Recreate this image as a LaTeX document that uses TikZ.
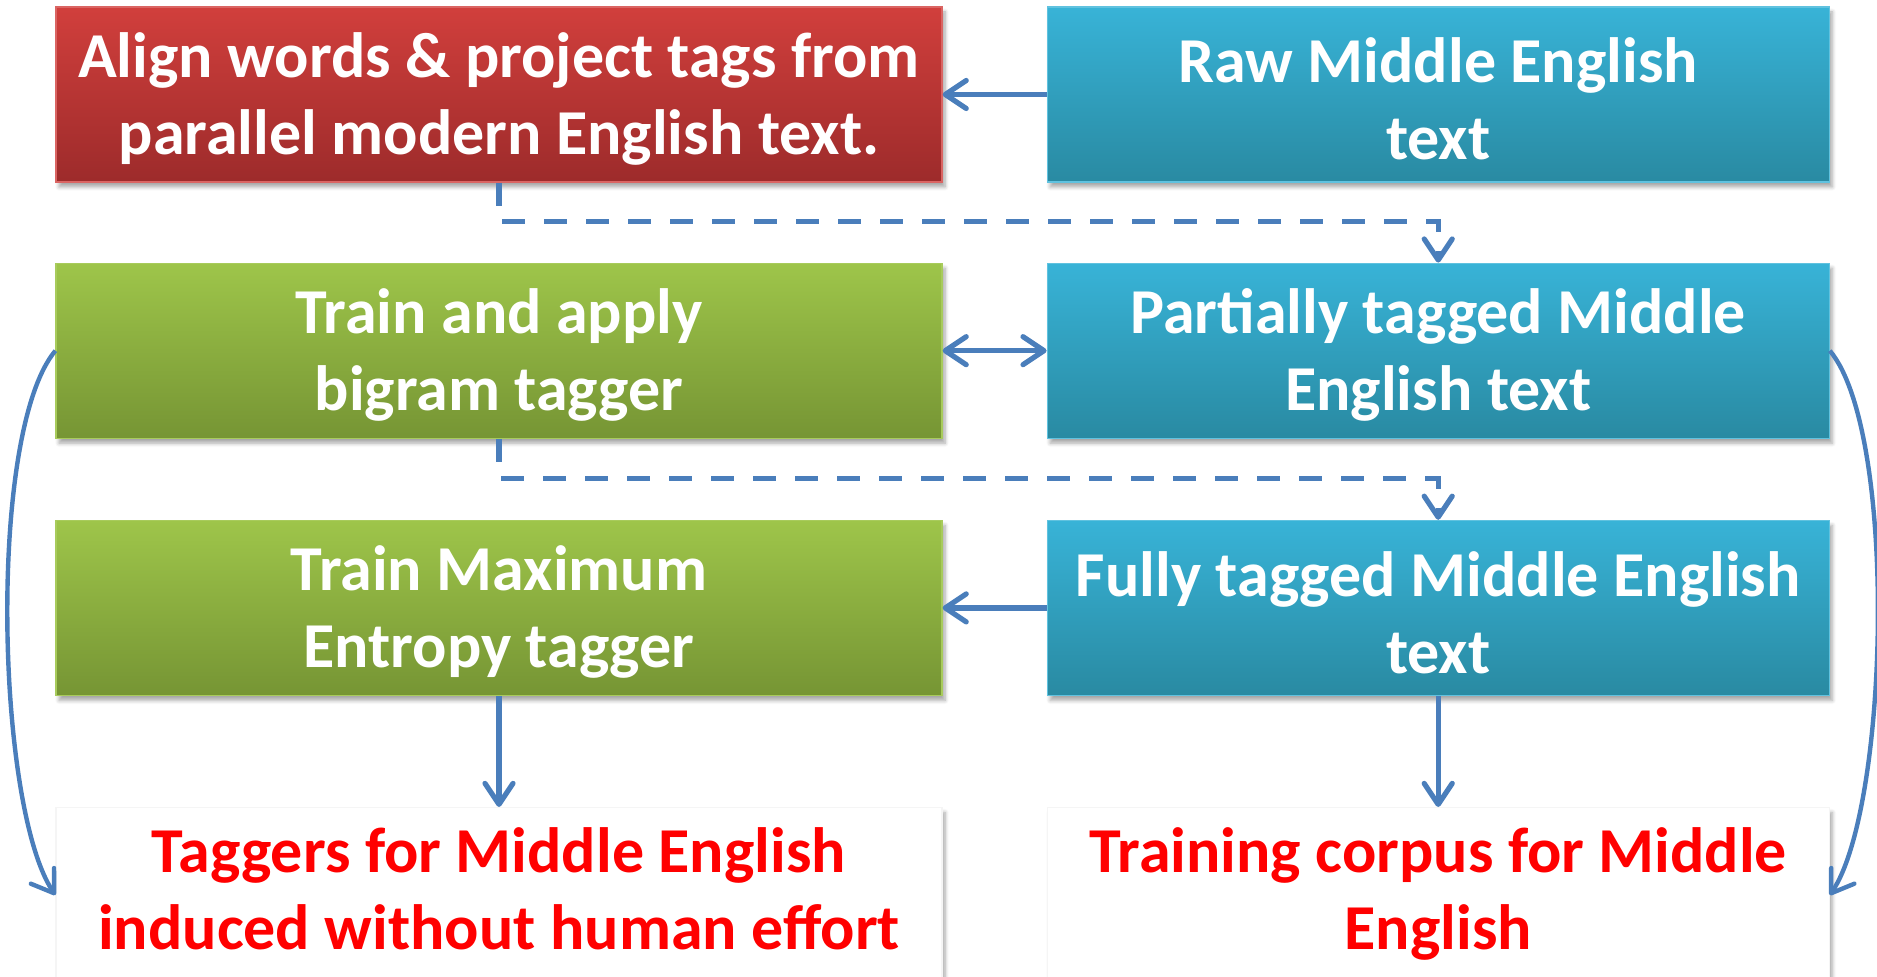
\documentclass[tikz,border=0pt]{standalone}
\usepackage{fontspec}
\setmainfont{Carlito}
\usepackage{tikz}
\usetikzlibrary{arrows.meta}
\usetikzlibrary{positioning}
\usetikzlibrary{shadows.blur}
\definecolor{arrowblue}{RGB}{74,126,187}
\definecolor{redtop}{RGB}{209,63,60}
\definecolor{redbot}{RGB}{157,43,43}
\definecolor{blutop}{RGB}{56,179,215}
\definecolor{blubot}{RGB}{41,138,162}
\definecolor{grntop}{RGB}{158,197,74}
\definecolor{grnbot}{RGB}{118,149,52}
\tikzset{
  box/.style = {rectangle, align=center, inner sep=0pt, text centered,
    font=\fontsize{32}{38.5}\selectfont\bfseries, text=white,
    minimum height=87.5pt, line width=0.6pt,
    blur shadow={shadow xshift=1.5pt, shadow yshift=-2.5pt,
      shadow blur steps=6, shadow opacity=35}},
  box_r/.style = {box, minimum width=443pt, draw=redtop!80!white,
    top color=redtop, bottom color=redbot},% step done by hand
  box_b/.style = {box, minimum width=391pt, draw=blutop!80!white,
    top color=blutop, bottom color=blubot},% middle english corpora
  box_g/.style = {box, minimum width=443pt, draw=grntop!90!white,
    top color=grntop, bottom color=grnbot},% taggers
  box_w/.style = {box, minimum width=443pt, text=red, fill=white,
    draw=gray!8, text depth=11.5pt},% outcome
  link/.style = {arrowblue, line width=2.6pt},
  dashlink/.style = {link, dash pattern=on 11.5pt off 9.5pt}
}

\begin{document}
\begin{tikzpicture}[>={Straight Barb[length=10.5pt,width=14pt,round]}]
\useasboundingbox (0,0) rectangle (938.5pt,-488.5pt);

\node [box_r] (align) at (249.5pt,-47.25pt)
  {\strut Align words \& project tags from\\parallel modern English text.};
\node [box_b, right=52pt of align] (raw) {\strut Raw Middle English\\text};
\node [box_g, below=40pt of align] (bigram) {\strut Train and apply\\bigram tagger};
\node [box_b, below=40pt of raw] (partial) {\strut Partially tagged Middle\\English text};
\node [box_g, below=40.5pt of bigram] (maxent) {\strut Train Maximum\\Entropy tagger};
\node [box_b, below=40.5pt of partial] (fully) {\strut Fully tagged Middle English\\text};
\node [box_w, below=55.5pt of maxent] (taggers)
  {\strut Taggers for Middle English\\induced without human effort};
\node [box_w, minimum width=391pt, below=55.5pt of fully] (corpus)
  {\strut Training corpus for Middle\\English};

\draw[link,->] (raw) -- (align);
\draw[link,<->] (bigram) -- (partial);
\draw[link,->] (fully) -- (maxent);
\draw[link,->] (maxent) -- (taggers);
\draw[link,->] (fully) -- (corpus);

\draw[dashlink,->] (align.south) -- ++(0,-19.5pt) -| (partial.north);
\draw[dashlink,->] (bigram.south) -- ++(0,-20pt) -| (fully.north);

%\draw[link,->] (bigram.west) to[out=230,in=124] (taggers.west);
\draw[link,line width=2.2pt,->] (bigram.west) .. controls +(230:53pt) and +(124:53pt) .. (taggers.west);
\draw[link,line width=2.2pt,->] (partial.east) .. controls +(-50:53pt) and +(56:53pt) .. (corpus.east);
\end{tikzpicture}
\end{document}
